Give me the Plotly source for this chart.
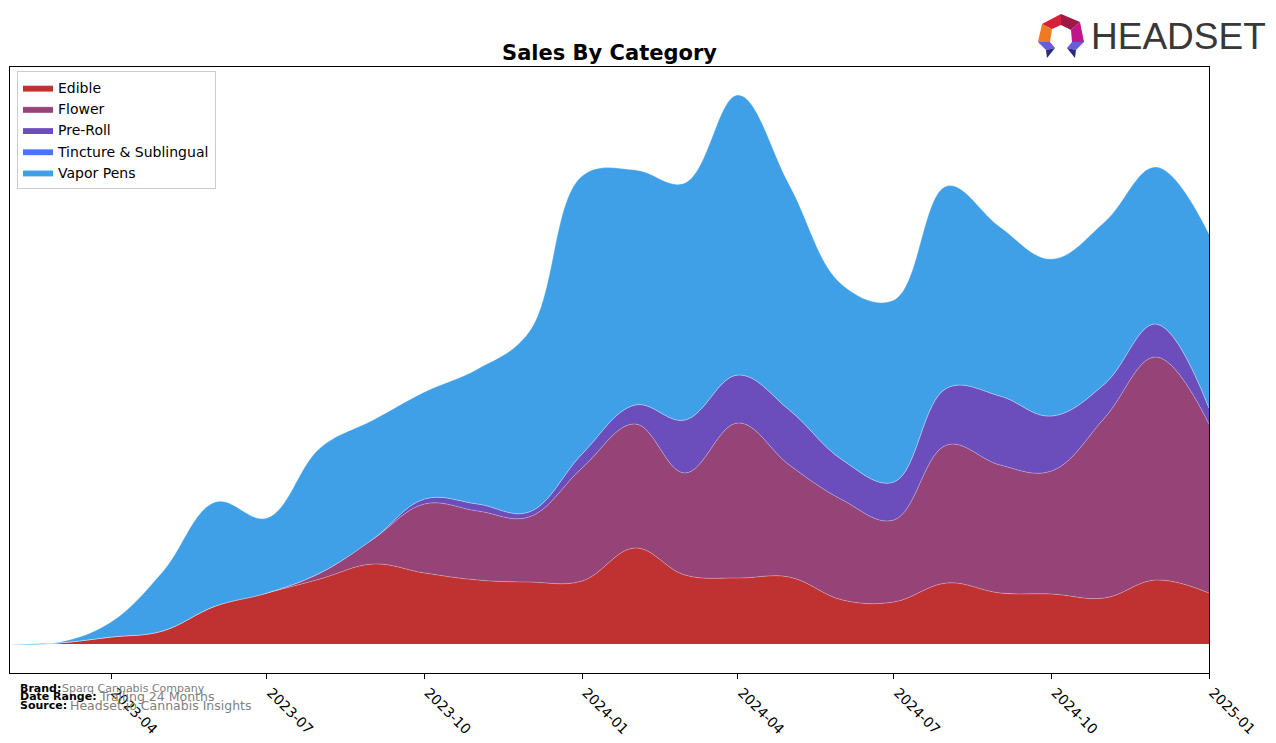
import plotly.graph_objects as go

months = ["2023-02-01", "2023-03-01", "2023-04-01", "2023-05-01", "2023-06-01", "2023-07-01",
          "2023-08-01", "2023-09-01", "2023-10-01", "2023-11-01", "2023-12-01", "2024-01-01",
          "2024-02-01", "2024-03-01", "2024-04-01", "2024-05-01", "2024-06-01", "2024-07-01",
          "2024-08-01", "2024-09-01", "2024-10-01", "2024-11-01", "2024-12-01", "2025-01-01"]

edible = [0, 1, 7, 13, 38, 51, 65, 80, 71, 64, 62, 63, 96, 69, 66, 67, 44, 42, 61, 51, 50, 46, 64, 51]
flower = [0, 0, 0, 0, 0, 0, 6, 25, 69, 69, 65, 113, 124, 102, 155, 112, 100, 82, 138, 128, 123, 180, 223, 169]
pre_roll = [0, 0, 0, 0, 0, 0, 0, 0, 5, 7, 5, 14, 19, 53, 48, 55, 40, 38, 57, 69, 55, 34, 33, 16]
tincture = [0] * 24
vapor_pens = [0, 0.5, 15, 59, 104, 75, 125, 119, 107, 135, 180, 278, 235, 237, 280, 225, 175, 182, 202, 169, 157, 162, 157, 174]

series = [
    ("Edible", edible, "#C03232"),
    ("Flower", flower, "#964378"),
    ("Pre-Roll", pre_roll, "#6B4EBB"),
    ("Tincture & Sublingual", tincture, "#4A76FF"),
    ("Vapor Pens", vapor_pens, "#3FA0E8"),
]

tick_vals = ["2023-04-01", "2023-07-01", "2023-10-01", "2024-01-01",
             "2024-04-01", "2024-07-01", "2024-10-01", "2025-01-01"]
tick_text = ["2023-04", "2023-07", "2023-10", "2024-01", "2024-04", "2024-07", "2024-10", "2025-01"]

fig = go.Figure()
for name, vals, col in series:
    fig.add_trace(go.Scatter(
        x=months, y=vals, name=name, mode="lines", stackgroup="one",
        line=dict(shape="spline", smoothing=1.1, width=0.8, color="rgba(255,255,255,0.35)"),
        fillcolor=col,
    ))

# plot area in pixels: x 10..1209, y 67..673
L, R, T, B = 10, 1209, 67, 673
W, H = R - L, B - T


def px(x):
    return (x - L) / W


def py(y):
    return (B - y) / H


def path(points):
    return "M " + " L ".join(f"{px(a):.5f},{py(b):.5f}" for a, b in points) + " Z"


logo_parts = [
    ([(1038, 42), (1042, 24), (1052, 29), (1050, 42)], "#F07A22"),
    ([(1042, 24), (1061, 14), (1061, 25), (1052, 29)], "#D8203A"),
    ([(1061, 14), (1080, 22), (1071, 30), (1061, 25)], "#A01846"),
    ([(1080, 22), (1084, 42), (1072, 42), (1071, 30)], "#C0168A"),
    ([(1038, 42), (1050, 42), (1055, 48), (1046, 50)], "#6A5AE0"),
    ([(1046, 50), (1055, 48), (1047, 58)], "#2A2A7A"),
    ([(1072, 42), (1084, 42), (1076, 50), (1067, 48)], "#6A5AE0"),
    ([(1067, 48), (1076, 50), (1075, 58)], "#2A2A7A"),
]
shapes = [dict(type="path", xref="paper", yref="paper", path=path(p), fillcolor=c,
               line=dict(width=0)) for p, c in logo_parts]

annotations = [
    dict(text="HEADSET", x=px(1090), y=py(37), xanchor="left", yanchor="middle",
         font=dict(family="Liberation Sans", size=37, color="#383838")),
    dict(text="<b>Brand:</b>", x=px(19), y=py(688), xanchor="left", yanchor="middle",
         font=dict(size=11, color="black")),
    dict(text="Sparq Cannabis Company", x=px(61), y=py(688), xanchor="left", yanchor="middle",
         font=dict(size=11, color="gray")),
    dict(text="<b>Date Range:</b>", x=px(19), y=py(696), xanchor="left", yanchor="middle",
         font=dict(size=11, color="black")),
    dict(text="Trailing 24 Months", x=px(98), y=py(696), xanchor="left", yanchor="middle",
         font=dict(size=12.5, color="gray")),
    dict(text="<b>Source:</b>", x=px(19), y=py(705), xanchor="left", yanchor="middle",
         font=dict(size=11, color="black")),
    dict(text="Headset.io Cannabis Insights", x=px(69), y=py(705), xanchor="left", yanchor="middle",
         font=dict(size=12.5, color="gray")),
]
for a in annotations:
    a.update(xref="paper", yref="paper", showarrow=False, borderpad=0)

fig.update_layout(
    width=1276, height=743,
    margin=dict(l=L, r=1276 - R, t=T, b=743 - B, pad=0, autoexpand=False),
    paper_bgcolor="white", plot_bgcolor="white",
    font=dict(family="DejaVu Sans", size=14, color="black"),
    title=dict(text="<b>Sales By Category</b>", x=0.5, xref="paper", xanchor="center",
               y=1 - 53 / 743, yref="container", yanchor="middle",
               font=dict(size=21, color="black")),
    showlegend=True,
    legend=dict(x=px(17), y=py(71), xanchor="left", yanchor="top",
                bordercolor="#CCCCCC", borderwidth=1, bgcolor="rgba(255,255,255,0.8)",
                font=dict(size=14), traceorder="normal", tracegroupgap=0),
    xaxis=dict(range=["2023-02-01", "2025-01-01"], tickvals=tick_vals, ticktext=tick_text,
               tickangle=45, ticks="outside", ticklen=5, tickcolor="black",
               ticklabelshift=4, ticklabelstandoff=0, automargin=False,
               showline=True, linecolor="black", linewidth=1, mirror=True,
               showgrid=False, zeroline=False, tickfont=dict(size=14)),
    yaxis=dict(range=[-(B - 644), 644 - T], showticklabels=False, ticks="", automargin=False,
               showline=True, linecolor="black", linewidth=1, mirror=True,
               showgrid=False, zeroline=False),
    shapes=shapes,
    annotations=annotations,
)

fig.write_html("out.html")
